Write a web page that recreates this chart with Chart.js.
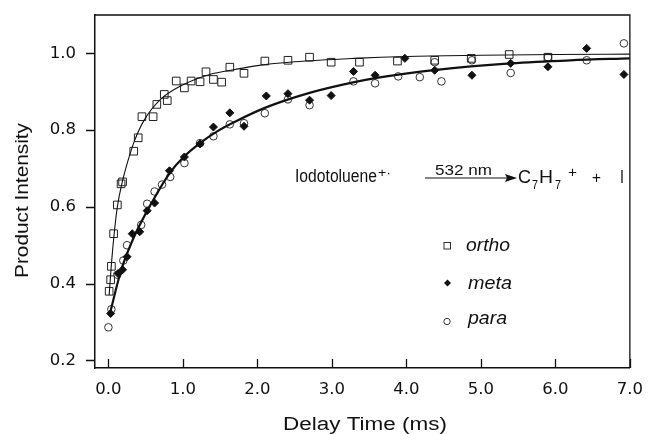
<!DOCTYPE html>
<html><head><meta charset="utf-8">
<script src="https://cdn.jsdelivr.net/npm/chart.js@4"></script>
<style>html,body{margin:0;padding:0;background:#fff}#c{display:block}</style>
</head><body>
<canvas id="c" width="655" height="434" style="width:655px;height:434px"></canvas>
<script>
// ---- data ----
const xTicks = [0, 1, 2, 3, 4, 5, 6, 7];
const yTicks = [0.2, 0.4, 0.6, 0.8, 1.0];

const orthoT = [0.01,0.03,0.04,0.07,0.12,0.17,0.19,0.34,0.40,0.45,0.60,0.65,0.75,0.79,0.91,1.02,1.11,1.23,1.31,1.41,1.52,1.63,1.82,2.10,2.41,2.70,2.99,3.37,3.88,4.38,4.87,5.38,5.90];
const orthoY = [0.38,0.41,0.445,0.53,0.605,0.66,0.665,0.745,0.78,0.835,0.835,0.867,0.893,0.877,0.928,0.91,0.928,0.926,0.952,0.932,0.925,0.964,0.948,0.98,0.982,0.99,0.977,0.977,0.98,0.982,0.987,0.997,0.99];

const metaT = [0.03,0.13,0.19,0.25,0.32,0.42,0.52,0.62,0.82,1.02,1.23,1.41,1.63,1.82,2.12,2.41,2.70,2.99,3.29,3.58,3.98,4.38,4.88,5.40,5.90,6.42,6.92];
const metaY = [0.322,0.426,0.436,0.47,0.53,0.535,0.59,0.61,0.694,0.73,0.764,0.808,0.845,0.81,0.889,0.895,0.878,0.89,0.953,0.943,0.987,0.956,0.943,0.974,0.965,1.013,0.945];

const paraT = [0.0,0.04,0.12,0.2,0.25,0.44,0.52,0.62,0.72,0.83,1.02,1.23,1.41,1.63,1.82,2.10,2.41,2.70,3.29,3.58,3.89,4.18,4.38,4.47,4.88,5.40,5.90,6.42,6.92];
const paraY = [0.286,0.333,0.423,0.46,0.50,0.553,0.608,0.64,0.658,0.678,0.714,0.766,0.784,0.815,0.818,0.844,0.88,0.865,0.927,0.922,0.94,0.938,0.977,0.927,0.982,0.949,0.99,0.982,1.026];

const orthoFitT = [0.01,0.04,0.08,0.12,0.19,0.25,0.35,0.48,0.70,0.97,1.36,1.7,2.0,2.5,3.3,4.0,5.0,6.0,7.0];
const orthoFitY = [0.37,0.45,0.535,0.6,0.668,0.712,0.772,0.826,0.88,0.915,0.945,0.958,0.968,0.978,0.987,0.992,0.995,0.997,0.998];

const metaFitT = [0.02,0.17,0.34,0.57,0.83,1.0,1.23,1.47,1.7,2.1,2.7,3.3,3.6,4.4,5.4,6.2,7.0];
const metaFitY = [0.322,0.434,0.52,0.607,0.69,0.728,0.766,0.798,0.822,0.858,0.897,0.925,0.936,0.957,0.974,0.982,0.987];

const legendLabels = ['ortho', 'meta', 'para'];

// ---- helpers ----
const FONT = '"Liberation Sans", Arial, Helvetica, sans-serif';
const TICKFONT = '"DejaVu Sans", sans-serif';
const pts = (xs, ys) => xs.map((x, i) => ({x: x, y: ys[i]}));
const INK = '#111';

function stretchText(ctx, s, x, y, font, w) {
  ctx.save();
  ctx.font = font;
  const m = ctx.measureText(s).width;
  const sx = w ? w / m : 1;
  ctx.translate(x, y);
  ctx.scale(sx, 1);
  ctx.textAlign = 'left';
  ctx.textBaseline = 'alphabetic';
  ctx.fillStyle = INK;
  ctx.fillText(s, 0, 0);
  ctx.restore();
}

const decorPlugin = {
  id: 'decor',
  afterDraw(chart) {
    const ctx = chart.ctx;
    const a = chart.chartArea;
    const xs = chart.scales.x;
    const ys = chart.scales.y;
    ctx.save();
    ctx.strokeStyle = INK;
    ctx.lineWidth = 1.3;
    // top & right frame
    ctx.beginPath();
    ctx.moveTo(a.left, a.top); ctx.lineTo(a.right, a.top); ctx.lineTo(a.right, a.bottom);
    ctx.stroke();
    // inward x ticks, outward y ticks
    ctx.beginPath();
    xs.ticks.forEach(t => {
      const px = Math.round(xs.getPixelForValue(t.value)) + 0.5;
      ctx.moveTo(px, a.bottom); ctx.lineTo(px, a.bottom - 9);
    });
    ys.ticks.forEach(t => {
      const py = Math.round(ys.getPixelForValue(t.value)) + 0.5;
      ctx.moveTo(a.left, py); ctx.lineTo(a.left - 9, py);
    });
    ctx.stroke();

    // axis titles
    stretchText(ctx, 'Delay Time (ms)', 283, 430, '18px ' + FONT, 164);
    ctx.save();
    ctx.translate(28, 278);
    ctx.rotate(-Math.PI / 2);
    stretchText(ctx, 'Product Intensity', 0, 0, '18px ' + FONT, 155);
    ctx.restore();

    // reaction
    stretchText(ctx, 'Iodotoluene', 295, 182, '18px ' + FONT, 82);
    stretchText(ctx, '+·', 378, 177, '13px ' + FONT, 13);
    stretchText(ctx, '532 nm', 435, 175, '14px ' + FONT, 57);
    ctx.beginPath();
    ctx.lineWidth = 1.2;
    ctx.moveTo(425, 178); ctx.lineTo(508, 178); ctx.stroke();
    ctx.beginPath();
    ctx.moveTo(517, 178); ctx.lineTo(505, 174); ctx.lineTo(507, 178); ctx.lineTo(505, 182);
    ctx.closePath(); ctx.fillStyle = INK; ctx.fill();
    stretchText(ctx, 'C', 518, 183, '19px ' + FONT, 13);
    stretchText(ctx, '7', 532, 189, '12px ' + FONT, 6);
    stretchText(ctx, 'H', 539, 183, '19px ' + FONT, 14);
    stretchText(ctx, '7', 555, 189, '12px ' + FONT, 6);
    stretchText(ctx, '+', 568, 176.5, '14px ' + FONT, 9);
    stretchText(ctx, '+', 592, 183, '16px ' + FONT, 9);
    stretchText(ctx, 'I', 620, 183, '19px ' + FONT, 4);

    // legend
    ctx.lineWidth = 1;
    ctx.strokeStyle = '#333';
    ctx.strokeRect(444, 242.5, 6.5, 6.5);
    ctx.beginPath();
    ctx.moveTo(447.5, 279.5); ctx.lineTo(451, 283); ctx.lineTo(447.5, 286.5); ctx.lineTo(444, 283);
    ctx.closePath(); ctx.fillStyle = INK; ctx.fill();
    ctx.beginPath(); ctx.arc(447, 321.5, 3.2, 0, Math.PI * 2); ctx.stroke();
    stretchText(ctx, legendLabels[0], 466, 251, 'italic 18px ' + FONT, 44);
    stretchText(ctx, legendLabels[1], 468, 289, 'italic 18px ' + FONT, 44);
    stretchText(ctx, legendLabels[2], 468, 324, 'italic 18px ' + FONT, 39);
    ctx.restore();
  }
};

new Chart(document.getElementById('c'), {
  type: 'scatter',
  data: {
    datasets: [
      { label: 'ortho fit', data: pts(orthoFitT, orthoFitY), showLine: true, pointRadius: 0,
        borderColor: INK, borderWidth: 1.1, cubicInterpolationMode: 'monotone', fill: false },
      { label: 'meta/para fit', data: pts(metaFitT, metaFitY), showLine: true, pointRadius: 0,
        borderColor: INK, borderWidth: 2.2, cubicInterpolationMode: 'monotone', fill: false },
      { label: legendLabels[0], data: pts(orthoT, orthoY), pointStyle: 'rect', pointRadius: 5.4,
        borderColor: '#222', borderWidth: 1, backgroundColor: 'rgba(0,0,0,0)' },
      { label: legendLabels[1], data: pts(metaT, metaY), pointStyle: 'rectRot', pointRadius: 4,
        borderColor: INK, borderWidth: 1, backgroundColor: INK },
      { label: legendLabels[2], data: pts(paraT, paraY), pointStyle: 'circle', pointRadius: 3.8,
        borderColor: '#333', borderWidth: 1, backgroundColor: 'rgba(0,0,0,0)' }
    ]
  },
  options: {
    responsive: false,
    animation: false,
    devicePixelRatio: 1,
    layout: { padding: { left: 0, top: 15, right: 17, bottom: 0 } },
    plugins: { legend: { display: false }, tooltip: { enabled: false } },
    elements: { point: { hoverRadius: 0 } },
    scales: {
      x: {
        type: 'linear', min: -0.18, max: 7.0,
        afterBuildTicks: s => { s.ticks = xTicks.map(v => ({ value: v })); },
        afterFit: s => { s.height = 66; },
        grid: { display: false, drawTicks: false },
        border: { display: true, color: INK, width: 1.5 },
        ticks: { padding: 12, color: INK, font: { family: TICKFONT, size: 16.5 },
          maxRotation: 0, autoSkip: false, callback: v => v.toFixed(1) }
      },
      y: {
        type: 'linear', min: 0.18, max: 1.1,
        afterBuildTicks: s => { s.ticks = yTicks.map(v => ({ value: v })); },
        afterFit: s => { s.width = 95; s.paddingTop = 0; s.paddingBottom = 0; },
        grid: { display: false, drawTicks: false },
        border: { display: true, color: INK, width: 1.5 },
        ticks: { padding: 19, color: INK, font: { family: TICKFONT, size: 16.5 },
          autoSkip: false, callback: v => v.toFixed(1) }
      }
    }
  },
  plugins: [decorPlugin]
});
</script>
</body></html>
